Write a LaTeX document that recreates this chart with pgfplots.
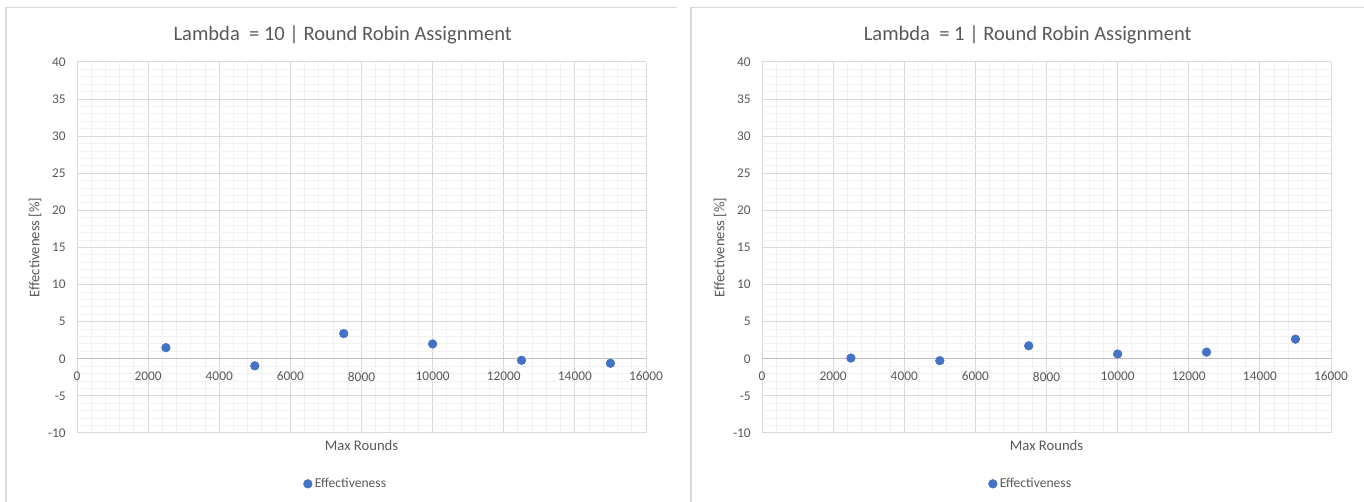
\documentclass[border=0pt]{standalone}
\usepackage{fontspec}
\setmainfont{Carlito}
\usepackage{pgfplots}
\pgfplotsset{compat=1.18}

\definecolor{txt}{HTML}{595959}
\definecolor{majgrid}{HTML}{D9D9D9}
\definecolor{mingrid}{HTML}{F2F2F2}
\definecolor{zeroline}{HTML}{BFBFBF}
\definecolor{frame}{HTML}{D9D9D9}
\definecolor{dot}{HTML}{4472C4}

\pgfplotsset{
  effchart/.style={
    scale only axis,
    width=426.75pt, height=278.25pt,
    xmin=0, xmax=16000, ymin=-10, ymax=40,
    xtick distance=2000, ytick distance=5,
    minor x tick num=4, minor y tick num=4,
    grid=both,
    major grid style={draw=majgrid, line width=0.75pt},
    minor grid style={draw=mingrid, line width=0.75pt},
    axis line style={draw=none},
    major tick length=0pt, minor tick length=0pt,
    scaled x ticks=false, scaled y ticks=false,
    /pgf/number format/assume math mode=true,
    tick label style={font=\fontsize{10}{12}\selectfont, text=txt},
    xticklabel style={/pgf/number format/fixed, /pgf/number format/1000 sep={}, yshift=49.3pt},
    yticklabel style={xshift=-5pt},
    xlabel={Max Rounds},
    ylabel={Effectiveness [\%]},
    label style={font=\fontsize{11}{13.2}\selectfont, text=txt},
    xlabel style={at={(axis description cs:0.5,-0.0323)}, anchor=center},
    ylabel style={at={(axis description cs:-0.0738,0.5)}, anchor=center},
    every axis title shift=0pt,
    title style={at={(axis description cs:0.467,1.072)}, anchor=center,
      font=\fontsize{15.4}{18.5}\selectfont, text=txt},
    legend style={at={(0.473,-0.137)}, anchor=center, draw=none, fill=none,
      font=\fontsize{10.2}{12}\selectfont, text=txt, inner sep=0pt},
    legend image code/.code={\draw[#1] plot coordinates {(0.12cm,0cm)};},
    clip=false,
  },
  effdots/.style={only marks, mark=*, mark size=3.25pt,
    mark options={draw=dot, fill=dot}},
}

\begin{document}
\begin{tikzpicture}
  \path[use as bounding box] (0,0) rectangle (1023pt,376.5pt);
  % chart frames
  \draw[frame, line width=1.1pt] (4.5pt,0) -- (4.5pt,370.9pt) -- (507.75pt,370.9pt);
  \draw[frame, line width=1.1pt] (518.25pt,0) -- (518.25pt,370.9pt) -- (1023pt,370.9pt);

  % Lambda = 10
  \begin{axis}[effchart, at={(57.75pt,51.75pt)},
      title={Lambda~ = 10 | Round Robin Assignment}]
    \draw[zeroline, line width=0.9pt] (axis cs:0,0) -- (axis cs:16000,0);
    \addplot[effdots] coordinates {
      (2500,1.5) (5000,-0.95) (7500,3.4) (10000,2.0) (12500,-0.2) (15000,-0.6)
    };
    \legend{Effectiveness}
  \end{axis}

  % Lambda = 1
  \begin{axis}[effchart, at={(571.5pt,51.75pt)},
      title={Lambda~ = 1 | Round Robin Assignment}]
    \draw[zeroline, line width=0.9pt] (axis cs:0,0) -- (axis cs:16000,0);
    \addplot[effdots] coordinates {
      (2500,0.1) (5000,-0.25) (7500,1.75) (10000,0.65) (12500,0.9) (15000,2.65)
    };
    \legend{Effectiveness}
  \end{axis}
\end{tikzpicture}
\end{document}
